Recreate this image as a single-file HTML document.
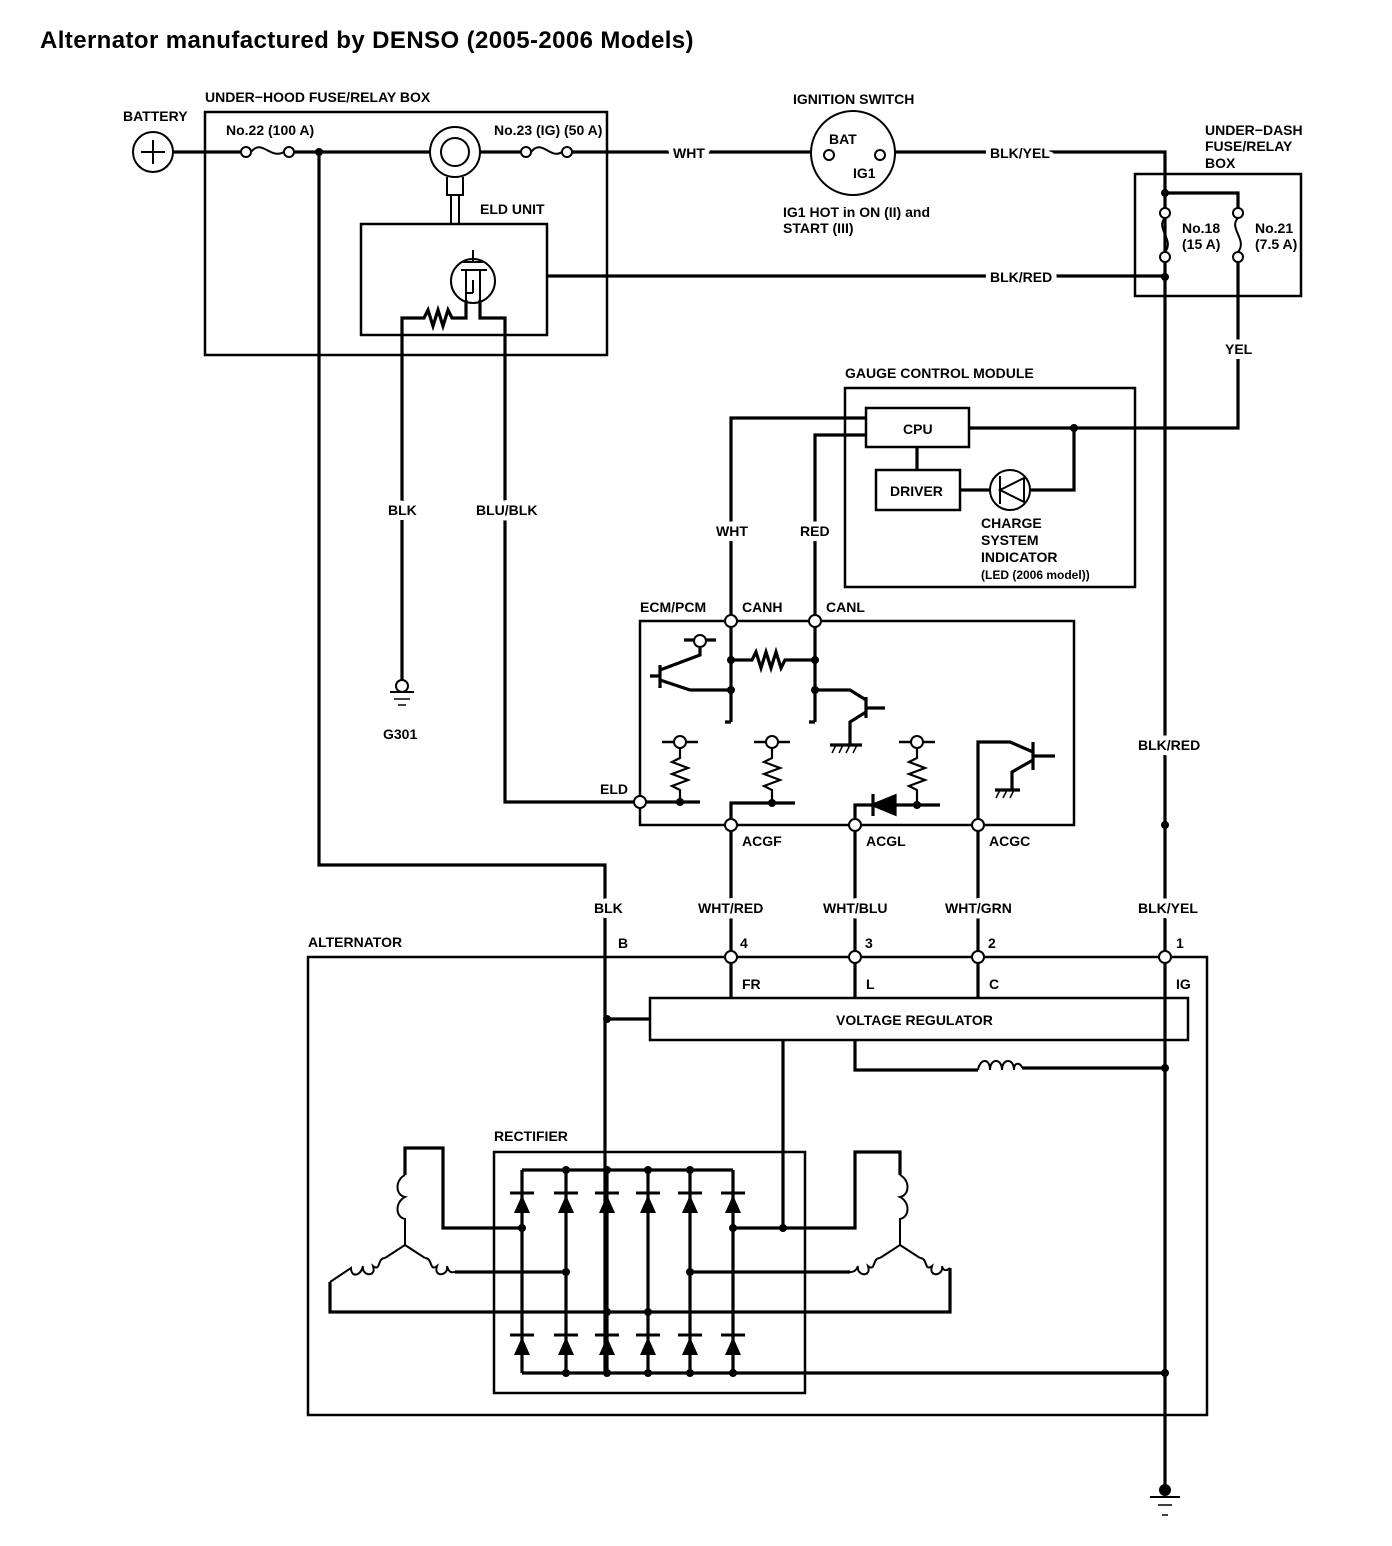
<!DOCTYPE html>
<html><head><meta charset="utf-8"><style>
html,body{margin:0;padding:0;background:#fff;}
svg{display:block;}
text{font-family:"Liberation Sans Narrow","Liberation Sans",sans-serif;font-weight:bold;font-size:14px;fill:#000;}
.m{stroke:#fff;stroke-width:10px;paint-order:stroke;stroke-linejoin:round;}
</style></head><body>
<svg width="1392" height="1546" viewBox="0 0 1392 1546" xmlns="http://www.w3.org/2000/svg">
<text x="40" y="48" style="font-family:'Liberation Sans',sans-serif;font-size:24px;font-weight:bold;letter-spacing:0.4px">Alternator manufactured by DENSO (2005-2006 Models)</text>
<g fill="none" stroke="#000" stroke-width="2.5">
<rect x="205" y="112" width="402" height="243"/>
<rect x="361" y="224" width="186" height="111"/>
<rect x="1135" y="174" width="166" height="122"/>
<rect x="845" y="388" width="290" height="199"/>
<rect x="866" y="408" width="103" height="39"/>
<rect x="876" y="470" width="84" height="40"/>
<rect x="640" y="621" width="434" height="204"/>
<rect x="308" y="957" width="899" height="458"/>
<rect x="650" y="998" width="538" height="42"/>
<rect x="494" y="1152" width="311" height="241"/>
</g>
<g fill="none" stroke="#000" stroke-width="3.2">
<circle cx="153" cy="152" r="20" stroke-width="2"/>
<path d="M141 152H165M153 140V164" stroke-width="2"/>
<path d="M173 152H241M294 152H430M480 152H521M572 152H812M895 152H1165V1490"/>
<path d="M251 152C262 138 270 160 284 152M531 152C542 138 550 160 562 152" stroke-width="2"/>
<circle cx="455" cy="152" r="25" stroke-width="2"/>
<circle cx="455" cy="152" r="14" stroke-width="2"/>
<path d="M447 177V195H463V177M451 195V224M459 195V224" stroke-width="2"/>
<circle cx="853" cy="153" r="42" stroke-width="2"/>
<path d="M319 152V865H605V1373"/>
<path d="M605 1019H650"/>
<circle cx="473" cy="281" r="22" stroke-width="2"/>
<path d="M473 262V250M463 262H483M461 270H487M466 270V300M480 270V300M473 293V280M466 293H473" stroke-width="2"/>
<path d="M466 300V318H452l-4 -8-5 16-5-16-5 16-5-16-4 8H402V680"/>
<path d="M480 300V318H505V802H636"/>
<path d="M547 276H1165"/>
<path d="M1165 193H1238V208M1238 262V428H970M1074 428V490H1030M990 490H960M917 447V470"/>
<path d="M1165 218C1155 228 1175 240 1165 252M1238 218C1228 228 1248 240 1238 252" stroke-width="2"/>
<circle cx="1010" cy="490" r="20" stroke-width="2"/>
<path d="M1000 476V504M1000 490L1024 478V502Z" stroke-width="2"/>
<path d="M731 617V418H866M815 617V435H866"/>
<path d="M731 625V722M815 625V722M731 660H752l4-8 5 16 5-16 5 16 5-16 5 16 4-8H815"/>
<path d="M731 690H690L660 680M660 665V688M650 676H660M660 670L700 655V648M684 640H716M815 690H850L866 700M866 697V718M866 708H885M866 712L850 722V745M830 745H862M725 722H731M809 722H815"/>
<path d="M644 802H700M731 821V803H795M855 821V805H940M978 821V742H1010L1033 752M1033 742V770M1033 756H1055M1033 760L1012 772V790M995 790H1020"/>
<path d="M680 802V790l-8-4 16-6-16-6 16-6-16-6 8-4V748M772 803V790l-8-4 16-6-16-6 16-6-16-6 8-4V748M917 805V790l-8-4 16-6-16-6 16-6-16-6 8-4V748" stroke-width="2.2"/>
<path d="M662 742H698M754 742H790M899 742H935" stroke-width="2.5"/>
<path d="M873 794V816M873 805L895 796V814Z" fill="#000"/>
<path d="M731 829V998M855 829V998M978 829V998"/>
<path d="M783 1040V1228M855 1040V1070H978M1022 1068H1165"/>
<path d="M978 1070c2-12 12-12 12 0c0-12 12-12 12 0c0-12 12-12 12 0c0-10 8-6 8-2" stroke-width="2"/>
<path d="M522 1170H733M522 1373H1165M522 1170V1373M566 1170V1373M607 1170V1373M648 1170V1373M690 1170V1373M733 1170V1373"/>
<g stroke-width="3">
<path d="M510 1193H534M554 1193H578M595 1193H619M636 1193H660M678 1193H702M721 1193H745M510 1335H534M554 1335H578M595 1335H619M636 1335H660M678 1335H702M721 1335H745"/>
</g>
<path d="M522 1228H443V1148H405V1175M455 1272H566M330 1282V1312H648M733 1228H855V1152H900V1175M850 1272H690M950 1268V1312H648"/>
<path d="M405 1175c-10 5-10 20 0 22c-10 5-10 20 0 22V1245L385 1258M405 1245L425 1258M385 1258c-8 0-4 14-12 8c4 12-12 10-10 0c-2 10-12 12-12 2L330 1282M425 1258c8 0 4 14 12 8c-4 12 12 10 10 0c2 8 6 6 8 6" stroke-width="2"/>
<path d="M900 1175c10 5 10 20 0 22c10 5 10 20 0 22V1245L880 1258M900 1245L920 1258M880 1258c-8 0-4 14-12 8c4 12-12 10-10 0c-2 6-6 6-8 6M920 1258c8 0 4 14 12 8c-4 12 12 10 10 0c2 8 8 2 8 2" stroke-width="2"/>
<path d="M390 692H414M1150 1497H1180" stroke-width="2"/>
<path d="M394 699H410M398 705H406M1158 1505H1172M1162 1515H1168" stroke-width="1.5"/>
<path d="M836 745l-4 8M843 745l-4 8M850 745l-4 8M857 745l-4 8M1000 790l-4 8M1007 790l-4 8M1014 790l-4 8" stroke-width="1.5"/>
</g>
<g fill="#000">
<path d="M514 1213L522 1195L530 1213ZM558 1213L566 1195L574 1213ZM599 1213L607 1195L615 1213ZM640 1213L648 1195L656 1213ZM682 1213L690 1195L698 1213ZM725 1213L733 1195L741 1213Z"/>
<path d="M514 1355L522 1337L530 1355ZM558 1355L566 1337L574 1355ZM599 1355L607 1337L615 1355ZM640 1355L648 1337L656 1355ZM682 1355L690 1337L698 1355ZM725 1355L733 1337L741 1355Z"/>
<circle cx="319" cy="152" r="4"/><circle cx="1165" cy="193" r="4"/><circle cx="1165" cy="277" r="4"/>
<circle cx="1074" cy="428" r="4"/><circle cx="731" cy="660" r="4"/><circle cx="731" cy="690" r="4"/>
<circle cx="815" cy="660" r="4"/><circle cx="815" cy="690" r="4"/><circle cx="680" cy="802" r="4"/>
<circle cx="772" cy="803" r="4"/><circle cx="917" cy="805" r="4"/><circle cx="1165" cy="825" r="4"/>
<circle cx="607" cy="1019" r="4"/><circle cx="1165" cy="1068" r="4"/><circle cx="783" cy="1228" r="4"/>
<circle cx="566" cy="1170" r="4"/><circle cx="607" cy="1170" r="4"/><circle cx="648" cy="1170" r="4"/><circle cx="690" cy="1170" r="4"/>
<circle cx="522" cy="1228" r="4"/><circle cx="733" cy="1228" r="4"/><circle cx="566" cy="1272" r="4"/><circle cx="690" cy="1272" r="4"/>
<circle cx="607" cy="1312" r="4"/><circle cx="648" cy="1312" r="4"/>
<circle cx="566" cy="1373" r="4"/><circle cx="607" cy="1373" r="4"/><circle cx="648" cy="1373" r="4"/><circle cx="690" cy="1373" r="4"/><circle cx="733" cy="1373" r="4"/><circle cx="1165" cy="1373" r="4"/>
<circle cx="1165" cy="1490" r="6"/>
</g>
<g fill="#fff" stroke="#000" stroke-width="2">
<circle cx="246" cy="152" r="5"/><circle cx="289" cy="152" r="5"/><circle cx="526" cy="152" r="5"/><circle cx="567" cy="152" r="5"/>
<circle cx="829" cy="155" r="5"/><circle cx="880" cy="155" r="5"/>
<circle cx="1165" cy="213" r="5"/><circle cx="1165" cy="257" r="5"/><circle cx="1238" cy="213" r="5"/><circle cx="1238" cy="257" r="5"/>
<circle cx="731" cy="621" r="6"/><circle cx="815" cy="621" r="6"/><circle cx="640" cy="802" r="6"/>
<circle cx="731" cy="825" r="6"/><circle cx="855" cy="825" r="6"/><circle cx="978" cy="825" r="6"/>
<circle cx="700" cy="641" r="6"/><circle cx="680" cy="742" r="6"/><circle cx="772" cy="742" r="6"/><circle cx="917" cy="742" r="6"/>
<circle cx="402" cy="686" r="6"/>
<circle cx="731" cy="957" r="6"/><circle cx="855" cy="957" r="6"/><circle cx="978" cy="957" r="6"/><circle cx="1165" cy="957" r="6"/>
</g>
<text x="123" y="121">BATTERY</text>
<text x="205" y="102">UNDER−HOOD FUSE/RELAY BOX</text>
<text x="226" y="135">No.22 (100 A)</text>
<text x="494" y="135">No.23 (IG) (50 A)</text>
<text x="480" y="214">ELD UNIT</text>
<text x="793" y="104">IGNITION SWITCH</text>
<text x="829" y="144">BAT</text>
<text x="853" y="178">IG1</text>
<text x="783" y="217">IG1 HOT in ON (II) and</text>
<text x="783" y="233">START (III)</text>
<text class="m" x="673" y="158">WHT</text>
<text class="m" x="990" y="158">BLK/YEL</text>
<text class="m" x="990" y="282">BLK/RED</text>
<text x="1205" y="135">UNDER−DASH</text>
<text x="1205" y="151">FUSE/RELAY</text>
<text x="1205" y="168">BOX</text>
<text x="1182" y="233">No.18</text><text x="1182" y="249">(15 A)</text>
<text x="1255" y="233">No.21</text><text x="1255" y="249">(7.5 A)</text>
<text class="m" x="1225" y="354">YEL</text>
<text x="845" y="378">GAUGE CONTROL MODULE</text>
<text x="903" y="434">CPU</text>
<text x="890" y="496">DRIVER</text>
<text x="981" y="528">CHARGE</text><text x="981" y="545">SYSTEM</text><text x="981" y="562">INDICATOR</text>
<text x="981" y="579" style="font-size:12px">(LED (2006 model))</text>
<text class="m" x="716" y="536">WHT</text>
<text class="m" x="800" y="536">RED</text>
<text class="m" x="388" y="515">BLK</text>
<text class="m" x="476" y="515">BLU/BLK</text>
<text x="383" y="739">G301</text>
<text x="640" y="612">ECM/PCM</text>
<text x="742" y="612">CANH</text>
<text x="826" y="612">CANL</text>
<text x="600" y="794">ELD</text>
<text x="742" y="846">ACGF</text>
<text x="866" y="846">ACGL</text>
<text x="989" y="846">ACGC</text>
<text class="m" x="1138" y="750">BLK/RED</text>
<text class="m" x="594" y="913">BLK</text>
<text class="m" x="698" y="913">WHT/RED</text>
<text class="m" x="823" y="913">WHT/BLU</text>
<text class="m" x="945" y="913">WHT/GRN</text>
<text class="m" x="1138" y="913">BLK/YEL</text>
<text x="308" y="947">ALTERNATOR</text>
<text x="618" y="948">B</text><text x="740" y="948">4</text><text x="865" y="948">3</text><text x="988" y="948">2</text><text x="1176" y="948">1</text>
<text x="742" y="989">FR</text><text x="866" y="989">L</text><text x="989" y="989">C</text><text x="1176" y="989">IG</text>
<text x="836" y="1025">VOLTAGE REGULATOR</text>
<text x="494" y="1141">RECTIFIER</text>
</svg>
</body></html>
